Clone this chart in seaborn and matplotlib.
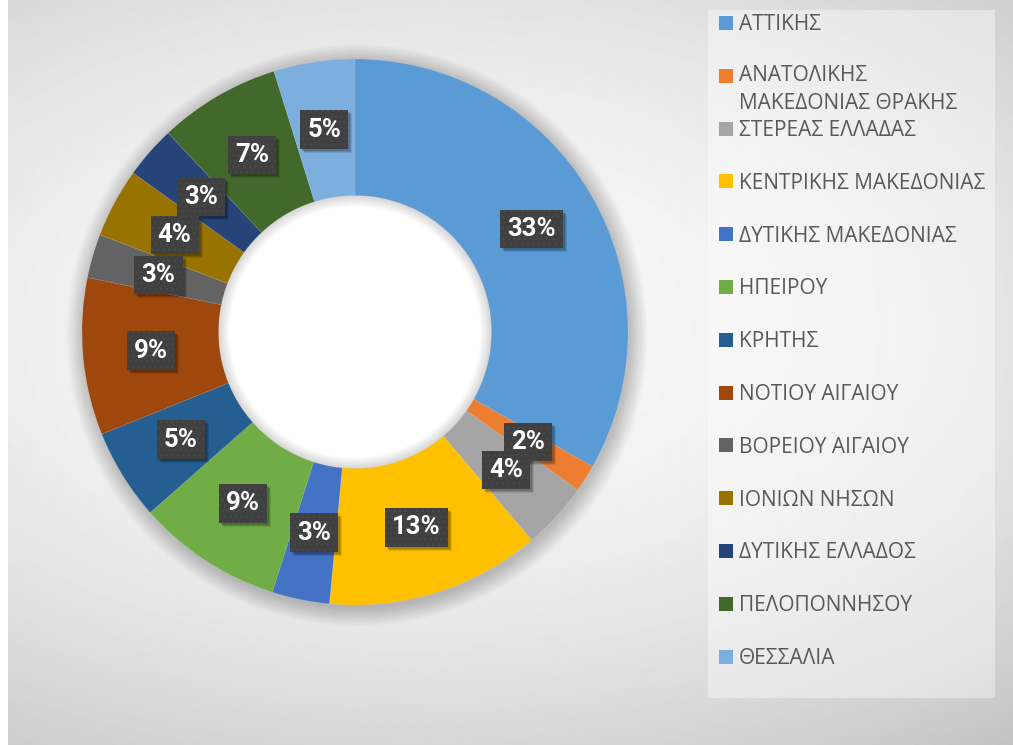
import numpy as np
import matplotlib
matplotlib.use("Agg")
import matplotlib.pyplot as plt
import matplotlib.transforms as mtransforms
import seaborn as sns
from matplotlib.patches import Rectangle, Circle, Wedge

# ---- data ----
regions = ["ΑΤΤΙΚΗΣ", "ΑΝΑΤΟΛΙΚΗΣ\nΜΑΚΕΔΟΝΙΑΣ ΘΡΑΚΗΣ", "ΣΤΕΡΕΑΣ ΕΛΛΑΔΑΣ",
           "ΚΕΝΤΡΙΚΗΣ ΜΑΚΕΔΟΝΙΑΣ", "ΔΥΤΙΚΗΣ ΜΑΚΕΔΟΝΙΑΣ", "ΗΠΕΙΡΟΥ", "ΚΡΗΤΗΣ",
           "ΝΟΤΙΟΥ ΑΙΓΑΙΟΥ", "ΒΟΡΕΙΟΥ ΑΙΓΑΙΟΥ", "ΙΟΝΙΩΝ ΝΗΣΩΝ",
           "ΔΥΤΙΚΗΣ ΕΛΛΑΔΟΣ", "ΠΕΛΟΠΟΝΝΗΣΟΥ", "ΘΕΣΣΑΛΙΑ"]
shares = [33.2, 1.6, 4.0, 12.7, 3.4, 8.6, 5.4, 9.3, 2.6, 4.1, 3.1, 7.2, 4.8]
colors = ["#5B9BD5", "#ED7D31", "#A5A5A5", "#FFC000", "#4472C4", "#70AD47",
          "#255E91", "#9E480E", "#636363", "#997300", "#264478", "#43682B",
          "#7CAFDD"]

sns.set_theme(style="white")
plt.rcParams['font.family'] = ['Open Sans', 'DejaVu Sans']
plt.rcParams['hatch.linewidth'] = 0.8
palette = sns.color_palette(colors)

W, H = 1013, 745
fig = plt.figure(figsize=(W / 100, H / 100), dpi=100, facecolor="white")

# ---- background gradient ----
bg = fig.add_axes([8 / W, 0, 1 - 8 / W, 1], zorder=-10)
yy, xx = np.mgrid[0:H, 8:W]
d2 = ((xx - 430) / 900.0) ** 2 + ((yy - 330) / 500.0) ** 2
val = np.clip(248 - 48 * d2, 190, 250) / 255.0
bg.imshow(val, cmap="gray", vmin=0, vmax=1, aspect="auto", origin="upper",
          extent=(0, 1, 0, 1), interpolation="bilinear")
bg.set_axis_off()

# ---- donut ----
R = 273.0
cx, cy = 355.0, 332.0
half = 1.2 * R
ax = fig.add_axes([(cx - half) / W, (H - cy - half) / H, 2 * half / W, 2 * half / H])
ax.patch.set_alpha(0)

# soft outer shadow
for i in range(14):
    ax.add_patch(Circle((0.008, -0.012), 1.0 + 0.005 * i, fc="black",
                        alpha=0.014, ec="none", zorder=0.5))

lab_font = dict(fontsize=18.5, fontweight="bold", family=["Roboto", "DejaVu Sans"])
wedges, texts, autotexts = ax.pie(
    shares, colors=palette, startangle=90, counterclock=False, radius=1.0,
    wedgeprops=dict(width=0.5, linewidth=0.4, edgecolor=(1, 1, 1, 0.15)),
    autopct=lambda p: f"{p:.0f}%", pctdistance=0.75,
    textprops=dict(color="white", **lab_font))
for w in wedges:
    w.set_zorder(1)

# hole with inner shadow
ax.add_patch(Circle((0, 0), 0.5, fc="white", ec="none", zorder=0.8))
for i in range(10):
    ax.add_patch(Wedge((0, 0), 0.5, 0, 360, width=0.004 * (i + 1),
                       fc="black", alpha=0.015, ec="none", zorder=0.9))

ax.set_xlim(-1.2, 1.2)
ax.set_ylim(-1.2, 1.2)
ax.set_aspect("equal")
ax.axis("off")

for t in autotexts:
    t.set_zorder(5)
    t.set_bbox(dict(boxstyle="square,pad=0.28", fc="#404040", ec="#4a4a4a",
                    lw=0, hatch="..."))

# soft drop shadows under the label boxes (placed from the rendered boxes)
fig.canvas.draw()
ident = mtransforms.IdentityTransform()
for t in autotexts:
    bb = t.get_bbox_patch().get_window_extent()
    for (ox, oy, a) in [(4, -4, 0.10), (3, -3, 0.14), (2, -2, 0.14)]:
        ax.add_patch(Rectangle((bb.x0 + ox, bb.y0 + oy), bb.width, bb.height,
                               transform=ident, fc="black", alpha=a, ec="none",
                               zorder=4))

# ---- legend ----
fig.add_artist(Rectangle((708 / W, 1 - 698 / H), (995 - 708) / W, (698 - 10) / H,
                         transform=fig.transFigure, fc="white", alpha=0.4,
                         ec="none", zorder=1))
for i, (lab, col) in enumerate(zip(regions, palette)):
    yc = 23 + 52.8 * i
    nlines = lab.count("\n")
    fig.add_artist(Rectangle((719 / W, 1 - (yc + 7) / H), 14 / W, 14 / H,
                             transform=fig.transFigure, fc=col, ec="none", zorder=2))
    fig.text(739 / W, 1 - (yc + 7.5 + 26 * nlines) / H, lab, va="baseline",
             ha="left", fontsize=15, color="#595959", linespacing=1.44, zorder=3)

fig.savefig("out.png", dpi=100, facecolor="white")
